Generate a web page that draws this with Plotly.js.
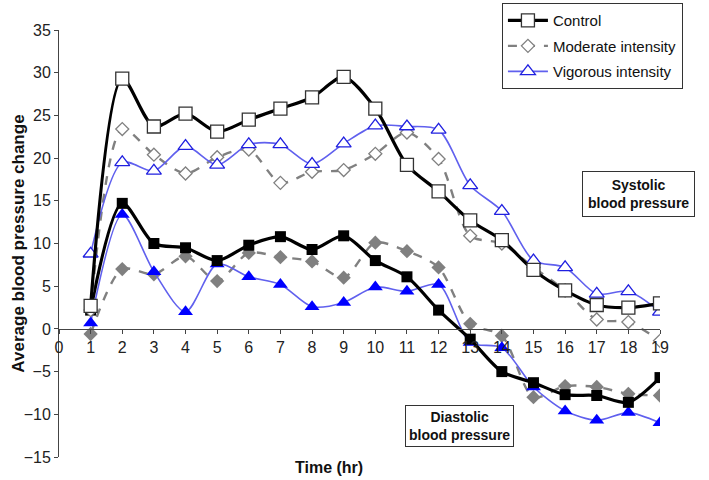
<!DOCTYPE html>
<html>
<head>
<meta charset="utf-8">
<script src="https://cdn.plot.ly/plotly-3.0.1.min.js"></script>
<style>
  body { margin: 0; background: #fff; }
  #chart { width: 709px; height: 480px; }
</style>
</head>
<body>
<div id="chart"></div>
<script>
"use strict";

var hours = [1, 2, 3, 4, 5, 6, 7, 8, 9, 10, 11, 12, 13, 14, 15, 16, 17, 18, 19];

// systolic (open markers)
var controlSys  = [2.7, 29.3, 23.7, 25.2, 23.1, 24.5, 25.8, 27.1, 29.5, 25.8, 19.2, 16.1, 12.7, 10.4, 6.9, 4.5, 2.8, 2.5, 3.0];
var moderateSys = [2.2, 23.4, 20.4, 18.2, 20.1, 21.0, 17.1, 18.4, 18.6, 20.5, 23.0, 19.9, 10.9, 10.0, 7.2, 4.5, 1.1, 0.8, -1.4];
var vigorousSys = [8.8, 19.5, 18.5, 21.4, 19.2, 21.6, 21.6, 19.3, 21.7, 23.8, 23.7, 23.3, 16.8, 13.8, 8.0, 7.2, 4.1, 4.4, 2.0];

// diastolic (filled markers)
var controlDia  = [2.2, 14.7, 10.0, 9.5, 8.0, 9.8, 10.8, 9.3, 10.9, 8.0, 6.1, 2.2, -1.2, -5.0, -6.3, -7.7, -7.8, -8.6, -5.7];
var moderateDia = [-0.6, 7.0, 6.4, 8.5, 5.6, 8.9, 8.4, 7.9, 6.0, 10.1, 9.1, 7.2, 0.6, -0.8, -8.0, -6.7, -6.8, -7.6, -7.8];
var vigorousDia = [0.7, 13.4, 6.7, 2.0, 7.6, 6.1, 5.2, 2.6, 3.1, 4.9, 4.4, 5.2, -1.6, -2.2, -6.8, -9.6, -10.7, -9.8, -11.0];

var FONT = "Liberation Sans, Arial, Helvetica, sans-serif";

function makeTrace(name, ys, style, open, showLegend){
    return {
        x: hours,
        y: ys,
        name: name,
        type: "scatter",
        mode: "lines+markers",
        legendgroup: name + (showLegend ? "" : "-dia"),
        legendrank: style.rank,
        showlegend: showLegend,
        line: {color: style.line, width: style.width, dash: style.dash, shape: "spline", smoothing: 0.8},
        marker: {
            symbol: style.symbol,
            size: open ? style.openSize : style.fillSize,
            color: open ? "#ffffff" : style.fill,
            line: {color: style.edge, width: open ? 1.3 : 0}
        }
    };
}

var controlStyle  = {rank: 1, line: "#000000", width: 3.2, dash: "solid", symbol: "square", openSize: 13, fillSize: 11, fill: "#000000", edge: "#333333"};
var moderateStyle = {rank: 2, line: "#808080", width: 2.4, dash: "dash", symbol: "diamond", openSize: 10, fillSize: 11, fill: "#808080", edge: "#808080"};
var vigorousStyle = {rank: 3, line: "#6060ee", width: 1.6, dash: "solid", symbol: "triangle-up", openSize: 13, fillSize: 13, fill: "#0000ff", edge: "#2020e0"};

var data = [
    makeTrace("Moderate intensity", moderateDia, moderateStyle, false, false),
    makeTrace("Vigorous intensity", vigorousDia, vigorousStyle, false, false),
    makeTrace("Control", controlDia, controlStyle, false, false),
    makeTrace("Moderate intensity", moderateSys, moderateStyle, true, true),
    makeTrace("Vigorous intensity", vigorousSys, vigorousStyle, true, true),
    makeTrace("Control", controlSys, controlStyle, true, true)
];

var layout = {
    width: 709,
    height: 480,
    margin: {l: 59, r: 49, t: 30, b: 23, autoexpand: false},
    paper_bgcolor: "#ffffff",
    plot_bgcolor: "#ffffff",
    font: {family: FONT, size: 15, color: "#222222"},
    showlegend: true,
    legend: {
        x: 0.737, y: 1.063, xanchor: "left", yanchor: "top",
        bgcolor: "#ffffff", bordercolor: "#333333", borderwidth: 1,
        font: {family: FONT, size: 15, color: "#111111"},
        traceorder: "grouped",
        tracegroupgap: 3,
        itemwidth: 40
    },
    xaxis: {
        range: [0, 19],
        dtick: 1,
        showgrid: false,
        zeroline: false,
        showline: true,
        linecolor: "#444444",
        linewidth: 1,
        ticks: "outside",
        ticklen: 4,
        tickcolor: "#444444",
        anchor: "free",
        position: 0.3,
        tickfont: {size: 16, color: "#222222"}
    },
    yaxis: {
        range: [-15, 35],
        dtick: 5,
        showgrid: false,
        zeroline: false,
        showline: true,
        linecolor: "#444444",
        linewidth: 1,
        ticks: "outside",
        ticklen: 4,
        tickcolor: "#444444",
        tickfont: {size: 16, color: "#222222"}
    },
    annotations: [
        {
            text: "<b>Average blood pressure change</b>",
            xref: "paper", yref: "paper",
            x: -0.068, y: 0.5, xanchor: "center", yanchor: "middle", textangle: -90,
            showarrow: false,
            font: {family: FONT, size: 17, color: "#111111"}
        },
        {
            text: "<b>Time (hr)</b>",
            xref: "paper", yref: "paper",
            x: 0.45, y: 0, yshift: -10, xanchor: "center", yanchor: "middle",
            showarrow: false,
            font: {family: FONT, size: 16, color: "#111111"}
        },
        {
            text: "<b>Systolic<br>blood pressure</b>",
            xref: "paper", yref: "paper",
            x: 0.965, y: 0.616, xanchor: "center", yanchor: "middle",
            showarrow: false,
            bordercolor: "#333333", borderwidth: 1, borderpad: 5,
            bgcolor: "#ffffff",
            font: {family: FONT, size: 14, color: "#111111"}
        },
        {
            text: "<b>Diastolic<br>blood pressure</b>",
            xref: "paper", yref: "paper",
            x: 0.667, y: 0.0726, xanchor: "center", yanchor: "middle",
            showarrow: false,
            bordercolor: "#333333", borderwidth: 1, borderpad: 3,
            bgcolor: "#ffffff",
            font: {family: FONT, size: 14, color: "#111111"}
        }
    ]
};

Plotly.newPlot("chart", data, layout, {displayModeBar: false, staticPlot: true});
</script>
</body>
</html>
